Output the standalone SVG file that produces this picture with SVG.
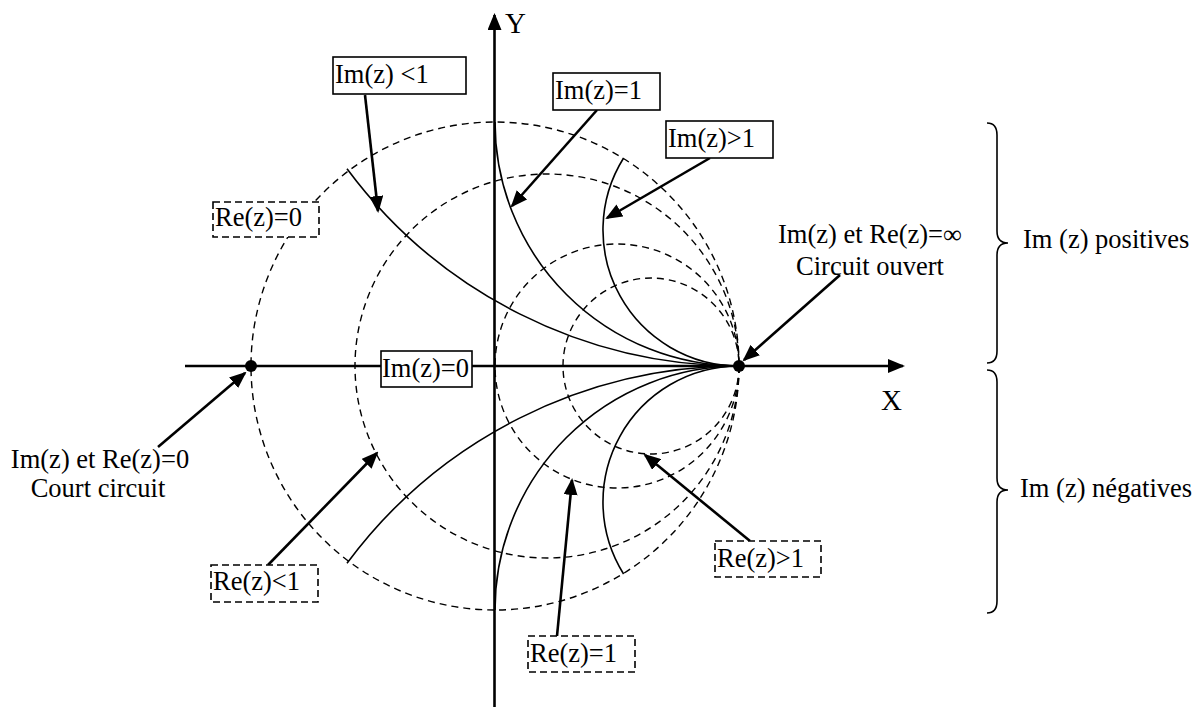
<svg xmlns="http://www.w3.org/2000/svg" width="1203" height="707" viewBox="0 0 1203 707" font-family="'Liberation Serif', 'Times New Roman', 'DejaVu Serif', serif">
<style>
text{font-family:'Liberation Serif','Times New Roman','DejaVu Serif',serif;font-size:26.5px;fill:#000}
.dc{fill:none;stroke:#000;stroke-width:1.4;stroke-dasharray:7 5}
.cv{fill:none;stroke:#000;stroke-width:1.6}
.ax{fill:none;stroke:#000;stroke-width:2.6}
.ar{fill:none;stroke:#000;stroke-width:2.6}
.bx{fill:#fff;stroke:#000;stroke-width:1.6}
.bd{fill:#fff;stroke:#000;stroke-width:1.6;stroke-dasharray:7 4}
.br{fill:none;stroke:#000;stroke-width:1.6}
</style>
<defs>
<marker id="ah" viewBox="0 0 17 14" refX="15" refY="7" markerWidth="17" markerHeight="14" markerUnits="userSpaceOnUse" orient="auto">
<path d="M0,0 L17,7 L0,14 Z" fill="#000"/>
</marker>
</defs>
<rect width="1203" height="707" fill="#fff"/>
<g id="re-circles">
<circle class="dc" cx="495" cy="366" r="244"/>
<circle class="dc" cx="547" cy="366" r="192"/>
<circle class="dc" cx="617" cy="366" r="122"/>
<circle class="dc" cx="651" cy="366" r="88"/>
</g>
<g id="im-arcs">
<path class="cv" d="M347 168.7 A488 488 0 0 0 739 366"/>
<path class="cv" d="M495 122 A244 244 0 0 0 739 366"/>
<path class="cv" d="M623.6 158 A136 136 0 0 0 739 366"/>
<path class="cv" d="M347 563.3 A488 488 0 0 1 739 366"/>
<path class="cv" d="M495 610 A244 244 0 0 1 739 366"/>
<path class="cv" d="M623.6 574 A136 136 0 0 1 739 366"/>
</g>
<g id="axes">
<line class="ax" x1="185" y1="366" x2="903" y2="366" marker-end="url(#ah)"/>
<line class="ax" x1="494.5" y1="707" x2="494.5" y2="15" marker-end="url(#ah)"/>
<text x="505" y="33" style="font-size:29px">Y</text>
<text x="881" y="410" style="font-size:29px">X</text>
</g>
<g id="connectors">
<line class="ar" x1="365" y1="95" x2="378" y2="211" marker-end="url(#ah)"/>
<line class="ar" x1="597" y1="110" x2="512" y2="206" marker-end="url(#ah)"/>
<line class="ar" x1="710" y1="158" x2="607" y2="218" marker-end="url(#ah)"/>
<line class="ar" x1="840" y1="275" x2="744" y2="360" marker-end="url(#ah)"/>
<line class="ar" x1="158" y1="447" x2="245" y2="373" marker-end="url(#ah)"/>
<line class="ar" x1="268" y1="565" x2="377" y2="453" marker-end="url(#ah)"/>
<line class="ar" x1="557" y1="636" x2="572" y2="480" marker-end="url(#ah)"/>
<line class="ar" x1="750" y1="541" x2="645" y2="455" marker-end="url(#ah)"/>
</g>
<g id="dots">
<circle cx="251" cy="366" r="6" fill="#000"/>
<circle cx="739" cy="366" r="6" fill="#000"/>
</g>
<g id="im-lt1"><rect class="bx" x="333" y="57" width="133" height="37"/><text x="335" y="83">Im(z) &lt;1</text></g>
<g id="im-eq1"><rect class="bx" x="553" y="73" width="107" height="37"/><text x="555" y="99">Im(z)=1</text></g>
<g id="im-gt1"><rect class="bx" x="666" y="121" width="107" height="37"/><text x="668" y="147">Im(z)&gt;1</text></g>
<g id="im-eq0"><rect class="bx" x="381" y="351" width="91" height="36"/><text x="382" y="377">Im(z)=0</text></g>
<g id="re-eq0"><rect class="bd" x="213" y="202" width="106" height="35"/><text x="215" y="226">Re(z)=0</text></g>
<g id="re-lt1"><rect class="bd" x="211" y="565" width="107" height="37"/><text x="213" y="590">Re(z)&lt;1</text></g>
<g id="re-eq1"><rect class="bd" x="528" y="636" width="107" height="36"/><text x="530" y="662">Re(z)=1</text></g>
<g id="re-gt1"><rect class="bd" x="715" y="541" width="106" height="36"/><text x="717" y="567">Re(z)&gt;1</text></g>
<g id="open-circuit"><text x="870" y="243" text-anchor="middle">Im(z) et Re(z)=∞</text><text x="870" y="275" text-anchor="middle">Circuit ouvert</text></g>
<g id="short-circuit"><text x="100" y="468" text-anchor="middle">Im(z) et Re(z)=0</text><text x="98" y="497" text-anchor="middle">Court circuit</text></g>
<g id="brace-pos"><path class="br" d="M987 123 Q997 123 997 135 L997 231 Q997 243 1008 243 Q997 243 997 255 L997 351 Q997 363 987 363"/><text x="1023" y="248">Im (z) positives</text></g>
<g id="brace-neg"><path class="br" d="M987 370 Q997 370 997 382 L997 478 Q997 490 1008 490 Q997 490 997 502 L997 601 Q997 613 987 613"/><text x="1020" y="497">Im (z) négatives</text></g>
</svg>
